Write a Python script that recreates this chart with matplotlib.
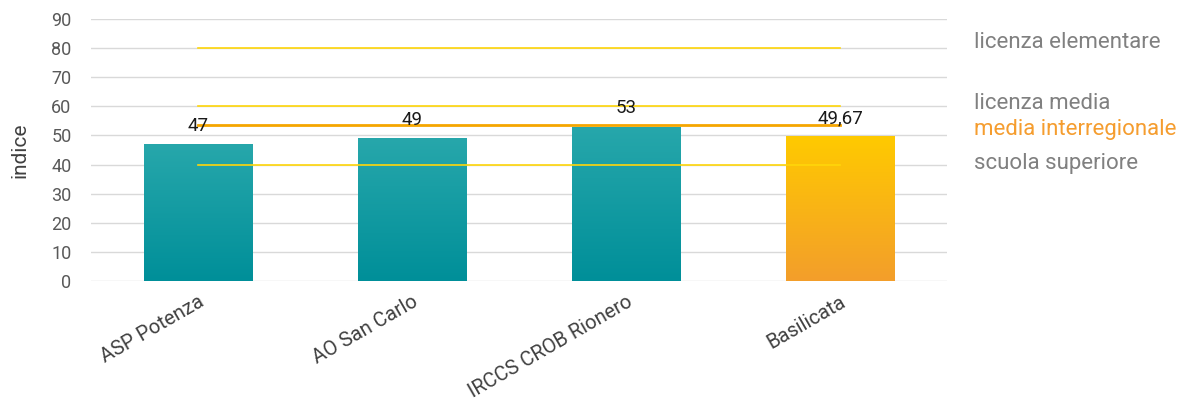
import numpy as np
import matplotlib
matplotlib.use("Agg")
import matplotlib.pyplot as plt
import matplotlib.transforms as mtransforms
from matplotlib.colors import LinearSegmentedColormap

categories = ["ASP Potenza", "AO San Carlo", "IRCCS CROB Rionero", "Basilicata"]
values = [47, 49, 53, 49.67]
value_labels = ["47", "49", "53", "49,67"]
ref_names = ["licenza elementare", "licenza media", "scuola superiore"]
ref_values = [80, 60, 40]
media_name = "media interregionale"
media_value = 53.6
yticks = [0, 10, 20, 30, 40, 50, 60, 70, 80, 90]

plt.rcParams['font.family'] = ['Roboto', 'DejaVu Sans']

fig = plt.figure(figsize=(11.94, 4.08), dpi=100)
ax = fig.add_axes([91/1194, 1-281/408, 856/1194, 262/408])
ax.set_xlim(-0.5, 3.5)
ax.set_ylim(0, 90)

teal = LinearSegmentedColormap.from_list("teal", ["#008f99", "#27a7ab"])
gold = LinearSegmentedColormap.from_list("gold", ["#f39e2b", "#ffca00"])
grad = np.linspace(0, 1, 256).reshape(-1, 1)

for i, v in enumerate(values):
    cmap = gold if i == 3 else teal
    bar = ax.bar(i, v, width=0.505, color='none', edgecolor='none', zorder=3)[0]
    im = ax.imshow(grad, cmap=cmap, origin='lower', aspect='auto',
                   extent=(i - 0.2525, i + 0.2525, 0, v), zorder=3)
    im.set_clip_path(bar)
    ax.text(i, v + 3.2, value_labels[i], ha='center', va='bottom',
            fontsize=13.5, color='#1a1a1a', zorder=6)

ax.set_xlim(-0.5, 3.5)
ax.set_ylim(0, 90)

for rv in ref_values:
    ax.plot([0, 3], [rv, rv], color='#ffd60a', lw=1.2, zorder=4)
ax.plot([0, 3], [media_value, media_value], color='#f5a600', lw=2, zorder=4)

ax.set_yticks(yticks)
ax.yaxis.grid(True, color='#d9d9d9', lw=1)
ax.set_axisbelow(True)
for s in ax.spines.values():
    s.set_visible(False)
ax.tick_params(axis='y', length=0, pad=14, labelsize=13, labelcolor='#595959')
ax.tick_params(axis='x', length=0, pad=8, labelsize=14.5, labelcolor='#404040')
ax.set_xticks(range(len(categories)))
ax.set_xticklabels(categories, rotation=30, ha='right', rotation_mode='anchor')
ax.set_ylabel("indice", fontsize=15, color='#404040', labelpad=16)

trans = mtransforms.blended_transform_factory(ax.transAxes, ax.transData)
label_pos = [81.8, 61.1, 40.5]
for name, y in zip(ref_names, label_pos):
    ax.text(1.0316, y, name, transform=trans, ha='left', va='center',
            fontsize=16, color='#808080', clip_on=False)
ax.text(1.0316, 51.9, media_name, transform=trans, ha='left', va='center',
        fontsize=16, color='#f59d2f', clip_on=False)

fig.savefig("out.png", dpi=100)
